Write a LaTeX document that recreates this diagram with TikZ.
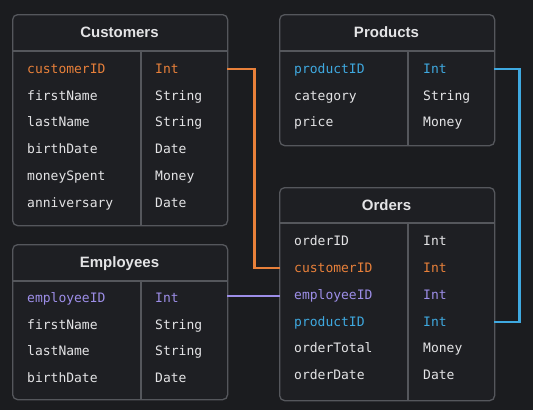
\documentclass[tikz,border=0pt]{standalone}
\usepackage{fontspec}
\setmainfont{Liberation Sans}
\setmonofont{DejaVu Sans Mono}
\definecolor{bg}{HTML}{1B1C1F}
\definecolor{cell}{HTML}{1E1F23}
\definecolor{rule}{HTML}{55575C}
\definecolor{ink}{HTML}{E4E4E6}
\definecolor{keyorange}{HTML}{E8803A}
\definecolor{keyblue}{HTML}{3FA9E0}
\definecolor{keypurple}{HTML}{9D8EE8}
\begin{document}
\begin{tikzpicture}[x=1pt, y=-1pt, line join=miter,
	tablebox/.style={draw=rule, fill=cell, line width=1.3pt, rounded corners=5pt, anchor=north west, minimum width=215pt, inner sep=0pt},
	grid/.style={draw=rule, line width=1.3pt},
	title/.style={font=\bfseries\fontsize{15}{18}\selectfont, text=ink, inner sep=0pt, text height=11pt, text depth=0pt},
	field/.style={font=\ttfamily\fontsize{13}{15}\selectfont, text=ink, inner sep=0pt, anchor=west, text height=10pt, text depth=2pt},
	link/.style={line width=2.4pt, line cap=rect}]

	\fill[bg] (0,0) rectangle (533,410);
	\useasboundingbox (0,0) rectangle (533,410);

	% Customers
	\node[tablebox, minimum height=211pt] (customers) at (12,14) {};
	\draw[grid] (12,51) -- (227,51);
	\draw[grid] (141,51) -- (141,225);
	\node[title] (customers title) at (119.5,32) {Customers};
	\node[field, text=keyorange] (cust id) at (27,69) {customerID};
	\node[field, text=keyorange] (cust id type) at (155,69) {Int};
	\node[field] (cust first) at (27,96) {firstName};
	\node[field] (cust first type) at (155,96) {String};
	\node[field] (cust last) at (27,122) {lastName};
	\node[field] (cust last type) at (155,122) {String};
	\node[field] (cust birth) at (27,149) {birthDate};
	\node[field] (cust birth type) at (155,149) {Date};
	\node[field] (cust spent) at (27,176) {moneySpent};
	\node[field] (cust spent type) at (155,176) {Money};
	\node[field] (cust anniv) at (27,203) {anniversary};
	\node[field] (cust anniv type) at (155,203) {Date};

	% Products
	\node[tablebox, minimum height=131pt] (products) at (279,14) {};
	\draw[grid] (279,51) -- (494,51);
	\draw[grid] (408,51) -- (408,145);
	\node[title] (products title) at (386.5,32) {Products};
	\node[field, text=keyblue] (prod id) at (294,69) {productID};
	\node[field, text=keyblue] (prod id type) at (423,69) {Int};
	\node[field] (prod cat) at (294,96) {category};
	\node[field] (prod cat type) at (423,96) {String};
	\node[field] (prod price) at (294,122) {price};
	\node[field] (prod price type) at (423,122) {Money};

	% Employees
	\node[tablebox, minimum height=155pt] (employees) at (12,244) {};
	\draw[grid] (12,281) -- (227,281);
	\draw[grid] (141,281) -- (141,399);
	\node[title] (employees title) at (119.5,262) {Employees};
	\node[field, text=keypurple] (emp id) at (27,298) {employeeID};
	\node[field, text=keypurple] (emp id type) at (155,298) {Int};
	\node[field] (emp first) at (27,325) {firstName};
	\node[field] (emp first type) at (155,325) {String};
	\node[field] (emp last) at (27,351) {lastName};
	\node[field] (emp last type) at (155,351) {String};
	\node[field] (emp birth) at (27,378) {birthDate};
	\node[field] (emp birth type) at (155,378) {Date};

	% Orders
	\node[tablebox, minimum height=213pt] (orders) at (279,187) {};
	\draw[grid] (279,223) -- (494,223);
	\draw[grid] (408,223) -- (408,400);
	\node[title] (orders title) at (386.5,205) {Orders};
	\node[field] (ord id) at (294,241) {orderID};
	\node[field] (ord id type) at (423,241) {Int};
	\node[field, text=keyorange] (ord cust) at (294,268) {customerID};
	\node[field, text=keyorange] (ord cust type) at (423,268) {Int};
	\node[field, text=keypurple] (ord emp) at (294,295) {employeeID};
	\node[field, text=keypurple] (ord emp type) at (423,295) {Int};
	\node[field, text=keyblue] (ord prod) at (294,322) {productID};
	\node[field, text=keyblue] (ord prod type) at (423,322) {Int};
	\node[field] (ord total) at (294,348) {orderTotal};
	\node[field] (ord total type) at (423,348) {Money};
	\node[field] (ord date) at (294,375) {orderDate};
	\node[field] (ord date type) at (423,375) {Date};

	% Relations
	\draw[link, keyorange] (customers.east |- cust id) -- ++(26,0) |- (orders.west |- ord cust);
	\draw[link, keyblue] (products.east |- prod id) -- ++(24,0) |- (orders.east |- ord prod);
	\draw[link, keypurple] (employees.east |- 0,296) -- (orders.west |- 0,296);

\end{tikzpicture}
\end{document}
